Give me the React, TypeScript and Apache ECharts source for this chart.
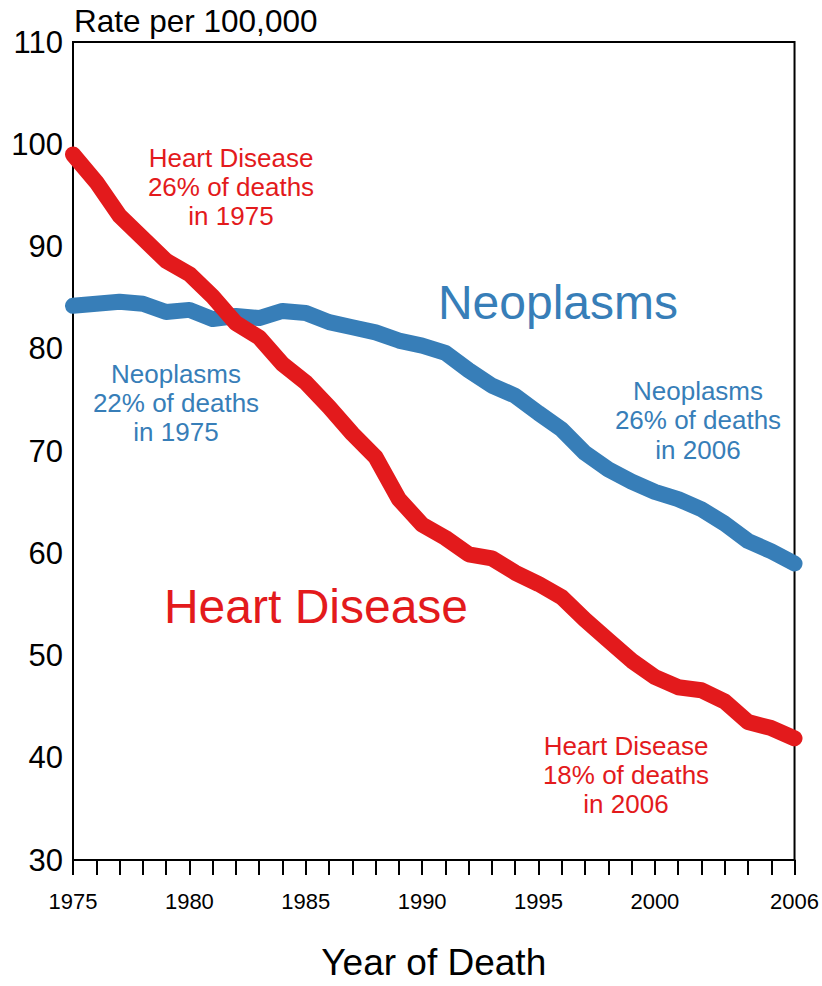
import React, { useEffect, useRef } from "react";
import * as echarts from "echarts";

const years: number[] = [
  1975, 1976, 1977, 1978, 1979, 1980, 1981, 1982, 1983, 1984, 1985, 1986, 1987, 1988, 1989, 1990,
  1991, 1992, 1993, 1994, 1995, 1996, 1997, 1998, 1999, 2000, 2001, 2002, 2003, 2004, 2005, 2006,
];
const heartDisease: number[] = [
  99.0, 96.3, 93.0, 90.8, 88.6, 87.3, 85.1, 82.5, 81.1, 78.5, 76.7, 74.3, 71.7, 69.4, 65.3, 62.8,
  61.5, 59.9, 59.5, 58.1, 57.0, 55.7, 53.5, 51.5, 49.5, 47.9, 46.9, 46.6, 45.5, 43.5, 42.9, 41.9,
];
const neoplasms: number[] = [
  84.2, 84.4, 84.6, 84.4, 83.6, 83.8, 82.9, 83.2, 83.0, 83.7, 83.5, 82.6, 82.1, 81.6, 80.8, 80.3,
  79.6, 77.9, 76.4, 75.4, 73.7, 72.1, 69.8, 68.2, 67.0, 66.0, 65.3, 64.3, 62.9, 61.2, 60.2, 59.0,
];
const shownYearLabels: number[] = [1975, 1980, 1985, 1990, 1995, 2000, 2006];

const RED = "#e31a1c";
const BLUE = "#377eb8";
const FONT = "'Liberation Sans', Arial, Helvetica, sans-serif";

export default function App() {
  const ref = useRef<HTMLDivElement>(null);
  useEffect(() => {
    document.body.style.margin = "0";
    if (!ref.current) return;
    const chart = echarts.init(ref.current, undefined, { renderer: "svg" });
    const heartData = years.map((y, i) => [y, heartDisease[i]]);
    const neoData = years.map((y, i) => [y, neoplasms[i]]);
    const annot = (x: number, y: number, text: string, color: string, size: number, lh: number) => ({
      type: "text",
      x,
      y,
      style: {
        text,
        fill: color,
        fontSize: size,
        fontFamily: FONT,
        lineHeight: lh,
        align: "center",
        verticalAlign: "top",
      },
    });
    chart.setOption({
      animation: false,
      backgroundColor: "#fff",
      grid: {
        left: 73,
        right: 26,
        top: 42,
        bottom: 114,
        show: true,
        borderColor: "#000",
        borderWidth: 2,
        containLabel: false,
      },
      xAxis: {
        type: "value",
        min: 1975,
        max: 2006,
        interval: 1,
        splitLine: { show: false },
        axisLine: { show: true, onZero: false, lineStyle: { color: "#000", width: 2 } },
        axisTick: { show: true, inside: false, length: 15, lineStyle: { color: "#000", width: 2 } },
        axisLabel: {
          show: true,
          margin: 30,
          color: "#000",
          fontSize: 22,
          fontFamily: FONT,
          showMaxLabel: true,
          showMinLabel: true,
          formatter: (v: number) => (shownYearLabels.includes(v) ? String(v) : ""),
        },
        name: "Year of Death",
        nameLocation: "middle",
        nameGap: 84,
        nameTextStyle: { color: "#000", fontSize: 37, fontFamily: FONT },
      },
      yAxis: {
        type: "value",
        min: 30,
        max: 110,
        interval: 10,
        splitLine: { show: false },
        axisLine: { show: true, lineStyle: { color: "#000", width: 2 } },
        axisTick: { show: false },
        axisLabel: { color: "#000", fontSize: 31, fontFamily: FONT, margin: 10 },
      },
      series: [
        {
          name: "Neoplasms",
          type: "line",
          data: neoData,
          symbol: "none",
          lineStyle: { color: BLUE, width: 16, cap: "round", join: "round" },
          z: 2,
        },
        {
          name: "Heart Disease",
          type: "line",
          data: heartData,
          symbol: "none",
          lineStyle: { color: RED, width: 16, cap: "round", join: "round" },
          z: 3,
        },
      ],
      graphic: [
        {
          type: "text",
          x: 74,
          y: 5,
          style: { text: "Rate per 100,000", fill: "#000", fontSize: 31.5, fontFamily: FONT },
        },
        annot(231, 143, "Heart Disease\n26% of deaths\nin 1975", RED, 26, 29),
        annot(176, 359, "Neoplasms\n22% of deaths\nin 1975", BLUE, 26, 29),
        annot(698, 376, "Neoplasms\n26% of deaths\nin 2006", BLUE, 26, 29.5),
        annot(626, 731, "Heart Disease\n18% of deaths\nin 2006", RED, 26, 29),
        annot(558, 278, "Neoplasms", BLUE, 48, 48),
        annot(316, 582, "Heart Disease", RED, 48, 48),
      ],
    });
    return () => chart.dispose();
  }, []);
  return <div ref={ref} style={{ width: 822, height: 986, position: "absolute", left: 0, top: 0 }} />;
}
